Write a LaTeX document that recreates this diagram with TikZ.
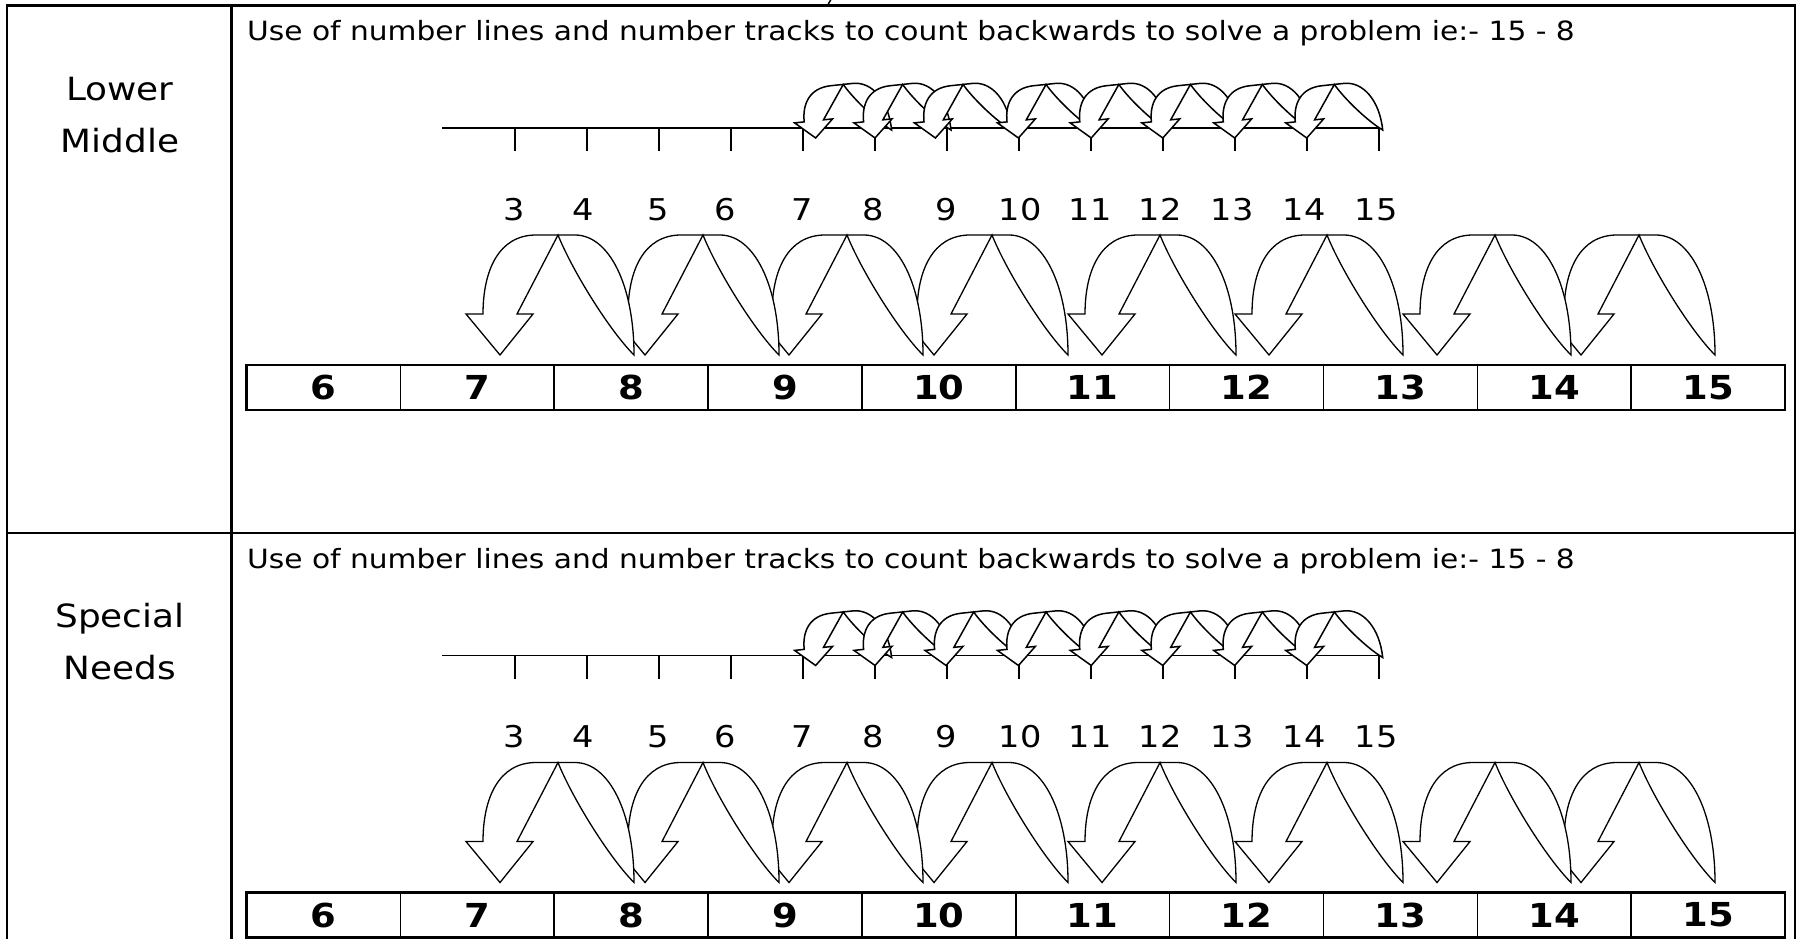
\documentclass[tikz,border=0pt]{standalone}
\usepackage{fontspec}
\setmainfont{DejaVu Sans}[FakeStretch=1.12]
\usepackage{tikz}
\usetikzlibrary{calc}
% one curved jump arrow, right foot at (#1,#2)
\newcommand{\hop}[3]{%
  \draw[hopline,shift={(#1,{#2})},#3] (0,0) .. controls (0,-70) and (-25,-120) .. (-59,-120)
    -- (-98,-120) .. controls (-135,-120) and (-151,-85) .. (-151,-41)
    -- (-168,-41) -- (-134,0) -- (-101,-41) -- (-117,-41) -- (-76,-120)
    .. controls (-62,-85) and (-25,-25) .. cycle;}

\begin{document}
\begin{tikzpicture}[x=1pt,y=-1pt,
  border/.style={line width=2.2pt,line cap=rect},
  hopline/.style={draw=black,fill=white,line width=1.3pt,line join=miter},
  numline/.style={line width=1.6pt},
  title/.style={anchor=base west,inner sep=0pt,font=\fontsize{26.5}{30}\selectfont},
  rowlab/.style={anchor=base,inner sep=0pt,font=\fontsize{32}{36}\selectfont},
  numlab/.style={anchor=base,inner sep=0pt,font=\fontsize{30}{34}\selectfont},
  cell/.style={draw,line width=1.5pt,minimum width=153.85pt,minimum height=45pt,
    inner sep=0pt,outer sep=0pt,font=\fontsize{33}{36}\selectfont\bfseries}]
\useasboundingbox (0,0) rectangle (1798,938);
\clip (0,0) rectangle (1798,938);

% table
\draw[border] (7,938) -- (7,5.5) -- (1795,5.5) -- (1795,938);
\draw[border] (7,533) -- (1795,533);
\draw[border] (231.5,5.5) -- (231.5,938);
\draw[line width=1.5pt] (830.7,0) -- (828.3,4);

\foreach \yo/\sa/\sb/\thd [count=\s] in {0/Lower/Middle/1011.4, 527.5/Special/Needs/1022} {
  \node[rowlab] (lab\s-1) at (120,{100+\yo}) {\sa};
  \node[rowlab] (lab\s-2) at (120,{152+\yo}) {\sb};
  \node[title] (title\s) at (247,{40.8+\yo}) {Use of number lines and number tracks to count backwards to solve a problem ie:- 15 - 8};

  % number line
  \draw[numline] (442,{128+\yo}) -- (1381,{128+\yo});
  \foreach \t in {0,...,12}
    \draw[numline] ({515+72*\t},{128+\yo}) -- ++(0,23);
  \foreach \bx in {891.6,951,\thd,1094.4,1167.2,1238.8,1310.7,1382.7}
    \hop{\bx}{130+\yo}{rotate=6,xscale=.57,yscale=.42,line width=1.5pt};

  \foreach \v/\lx in {3/514,4/583,5/658,6/725,7/802,8/873,9/946,10/1020,11/1090,12/1160,13/1232,14/1304,15/1376}
    \node[numlab] (n\s-\v) at (\lx,{220+\yo}) {\v};

  % big jumps on the track
  \foreach \bx in {1715,1571,1403,1236,1068,923,779,634}
    \hop{\bx}{355+\yo}{};

  % number track
  \foreach \v [count=\i from 0] in {6,...,15}
    \node[cell] (c\s-\v) at ({246.5+153.85*(\i+0.5)},{387.5+\yo}) {\v};
  \draw[line width=2.5pt] (c\s-6.north west) rectangle (c\s-15.south east);
}
\end{tikzpicture}
\end{document}
